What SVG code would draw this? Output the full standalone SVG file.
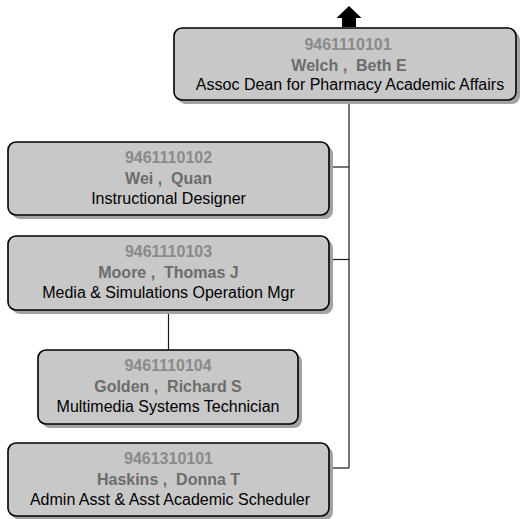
<svg xmlns="http://www.w3.org/2000/svg" width="521" height="519" viewBox="0 0 521 519">
  <style>
    .shadow { fill: #a2a2a2; }
    .box { fill: #c8c8c8; stroke: #000; stroke-width: 1.6; }
    .id { font-family: "Liberation Sans", Arial, sans-serif; font-size: 16px; font-weight: bold; fill: #8a8a8a; text-anchor: middle; }
    .name { font-family: "Liberation Sans", Arial, sans-serif; font-size: 16px; font-weight: bold; fill: #6c6c6c; text-anchor: middle; white-space: pre; }
    .title { font-family: "Liberation Sans", Arial, sans-serif; font-size: 16px; fill: #000; text-anchor: middle; }
    .conn { stroke: #1a1a1a; stroke-width: 1.2; fill: none; }
  </style>
  <rect width="521" height="519" fill="#fff"/>

  <!-- reporting lines -->
  <g id="connectors">
    <path class="conn" d="M349,100 V468"/>
    <path class="conn" d="M329,167 H349"/>
    <path class="conn" d="M329,259.5 H349"/>
    <path class="conn" d="M329,468 H349"/>
    <path class="conn" d="M168.5,310 V350"/>
  </g>

  <!-- up arrow: reports further up -->
  <g id="up-arrow">
    <polygon points="349,6 361.5,18 356,18 356,27 342,27 342,18 336.5,18" fill="#000"/>
  </g>

  <g id="node-9461110101">
    <rect class="shadow" x="178" y="32" width="342" height="72" rx="8"/>
    <rect class="box" x="174" y="28" width="342" height="72" rx="8"/>
    <text class="id" x="348" y="49.5">9461110101</text>
    <text class="name" x="349" y="70.5" xml:space="preserve">Welch ,  Beth E</text>
    <text class="title" x="350" y="90">Assoc Dean for Pharmacy Academic Affairs</text>
  </g>

  <g id="node-9461110102">
    <rect class="shadow" x="12" y="146" width="321" height="73" rx="8"/>
    <rect class="box" x="8" y="142" width="321" height="73" rx="8"/>
    <text class="id" x="168.5" y="163">9461110102</text>
    <text class="name" x="168.5" y="184" xml:space="preserve">Wei ,  Quan</text>
    <text class="title" x="168.5" y="204">Instructional Designer</text>
  </g>

  <g id="node-9461110103">
    <rect class="shadow" x="12" y="240" width="321" height="74" rx="8"/>
    <rect class="box" x="8" y="236" width="321" height="74" rx="8"/>
    <text class="id" x="168.5" y="257">9461110103</text>
    <text class="name" x="168.5" y="278" xml:space="preserve">Moore ,  Thomas J</text>
    <text class="title" x="168.5" y="298">Media &amp; Simulations Operation Mgr</text>
  </g>

  <g id="node-9461110104">
    <rect class="shadow" x="42" y="354" width="260" height="74" rx="8"/>
    <rect class="box" x="38" y="350" width="260" height="74" rx="8"/>
    <text class="id" x="168" y="371">9461110104</text>
    <text class="name" x="168" y="392" xml:space="preserve">Golden ,  Richard S</text>
    <text class="title" x="168" y="412">Multimedia Systems Technician</text>
  </g>

  <g id="node-9461310101">
    <rect class="shadow" x="12" y="447" width="321" height="73" rx="8"/>
    <rect class="box" x="8" y="443" width="321" height="73" rx="8"/>
    <text class="id" x="168.5" y="464">9461310101</text>
    <text class="name" x="168.5" y="485" xml:space="preserve">Haskins ,  Donna T</text>
    <text class="title" x="170" y="505">Admin Asst &amp; Asst Academic Scheduler</text>
  </g>
</svg>
